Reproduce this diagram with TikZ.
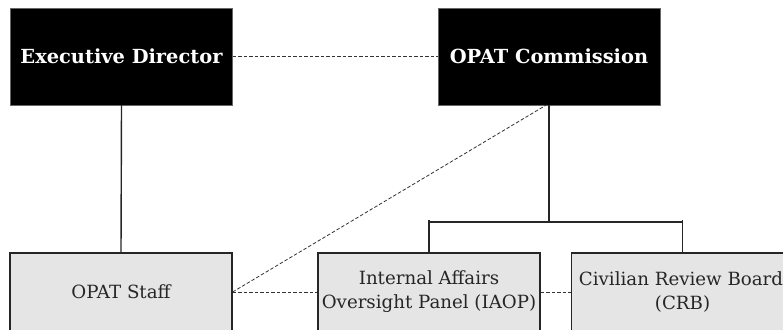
\documentclass[tikz,border=0pt]{standalone}
\usepackage{fontspec}
\setmainfont{DejaVu Serif}

\begin{document}
\begin{tikzpicture}[
		x=1pt, y=1pt,
		headbox/.style={rectangle,draw=black!60,fill=black,text=white,font=\bfseries\fontsize{19.4}{25}\selectfont,
			minimum width=222pt,minimum height=97pt,inner sep=0pt},
		unitbox/.style={rectangle,draw=black!85,line width=1.2pt,fill=black!10,text=black!85,font=\fontsize{18.2}{24}\selectfont,
			align=center,minimum width=222pt,minimum height=78pt,inner sep=0pt},
		link/.style={draw=black!85,line width=1.4pt},
		dotlink/.style={draw=black!80,line width=0.8pt,dash pattern=on 3.5pt off 2pt}
		]
		\useasboundingbox (0,0) rectangle (783,329);
		% top row
		\node[headbox] (ed) at (121.5,272.5) {Executive Director};
		\node[headbox] (oc) at (549,272.5) {OPAT Commission};
		% bottom row
		\node[unitbox] (staff) at (121,37) {OPAT Staff};
		\node[unitbox] (iaop) at (429,37) {Internal Affairs\\Oversight Panel (IAOP)};
		\node[unitbox] (crb) at (682.5,37) {\hspace*{-3pt}Civilian Review Board\hspace*{0pt}\\(CRB)};
		\coordinate (bus) at (549,107);
		
		\draw[link] (ed.south) -- (staff.north);
		\draw[link] (oc.south) -- (bus);
		\draw[link] (iaop.north) -- ([yshift=2pt]iaop.north |- bus);
		\draw[link] (crb.north) -- ([yshift=2pt]crb.north |- bus);
		\draw[link] (iaop.north |- bus) -- (crb.north |- bus);
		
		\draw[dotlink] (ed.east) -- (oc.west);
		\draw[dotlink] (staff.east) -- ([xshift=-3pt]oc.south);
		\draw[dotlink] (staff.east) -- (iaop.west);
		\draw[dotlink] (iaop.east) -- (crb.west);
	\end{tikzpicture}
\end{document}
